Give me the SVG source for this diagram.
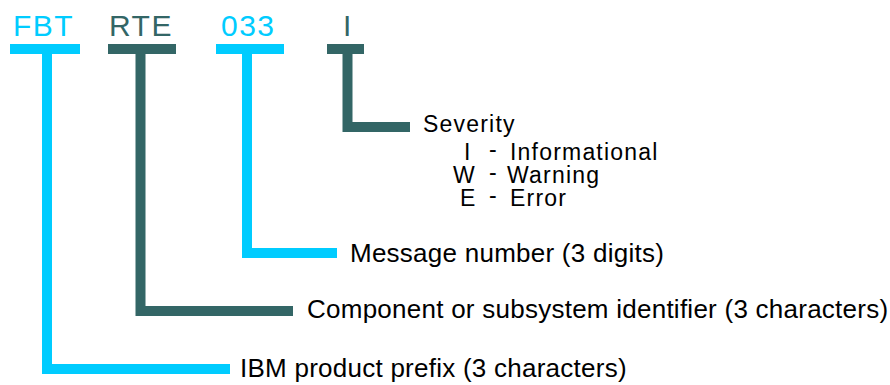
<svg xmlns="http://www.w3.org/2000/svg" width="890" height="385" viewBox="0 0 890 385">
<style>
.lbl{font-family:"Liberation Sans",Arial,sans-serif;font-size:30px;letter-spacing:1.5px}
.txt{font-family:"Liberation Sans",Arial,sans-serif;font-size:26px;letter-spacing:0.25px;fill:#000}
.sev{font-family:"Liberation Sans",Arial,sans-serif;font-size:23px;letter-spacing:1.2px;fill:#000}
.cyan{fill:#00ccff}
.teal{fill:#336666}
.cl{fill:none;stroke:#00ccff;stroke-width:10;stroke-linejoin:miter}
.tl{fill:none;stroke:#336666;stroke-width:10;stroke-linejoin:miter}
</style>
<rect width="890" height="385" fill="#fff"/>
<g id="connectors">
<path class="cl" d="M10,49 H80 M47,49 V369 H230"/>
<path class="tl" d="M108,49 H176 M140.5,49 V311 H293"/>
<path class="cl" d="M216,49 H284 M247,49 V253 H337"/>
<path class="tl" d="M327,49 H364 M347.5,49 V127 H410"/>
</g>
<g id="fbt">
<text class="lbl cyan" x="13" y="36">FBT</text>
<text class="txt" x="240" y="377">IBM product prefix (3 characters)</text>
</g>
<g id="rte">
<text class="lbl teal" x="109" y="36">RTE</text>
<text class="txt" x="307" y="318">Component or subsystem identifier (3 characters)</text>
</g>
<g id="num">
<text class="lbl cyan" x="221" y="36">033</text>
<text class="txt" x="350" y="262">Message number (3 digits)</text>
</g>
<g id="sev">
<text class="lbl teal" x="343" y="36">I</text>
<text class="sev" x="423" y="132">Severity</text>
<text class="sev" x="464" y="160">I</text>
<text class="sev" x="489" y="157">-</text>
<text class="sev" x="510" y="160">Informational</text>
<text class="sev" x="453" y="183">W</text>
<text class="sev" x="489" y="180">-</text>
<text class="sev" x="507" y="183">Warning</text>
<text class="sev" x="460" y="206">E</text>
<text class="sev" x="489" y="203">-</text>
<text class="sev" x="510" y="206">Error</text>
</g>
</svg>
